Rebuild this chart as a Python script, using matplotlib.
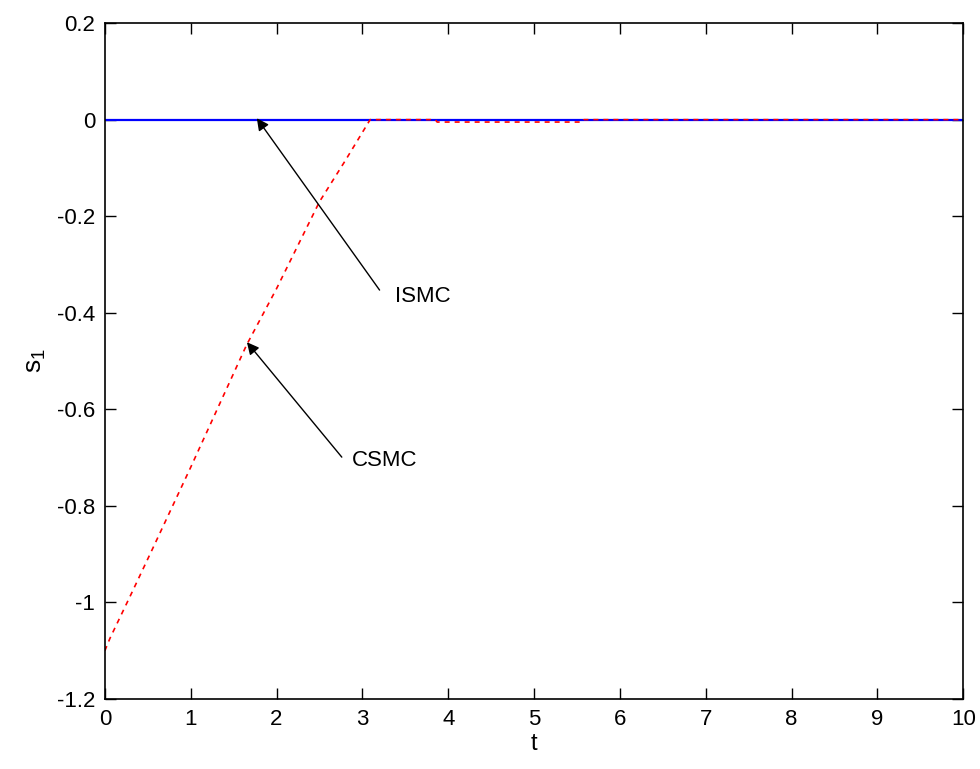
import matplotlib
matplotlib.use("Agg")
import matplotlib.pyplot as plt

plt.rcParams['font.family'] = ['Liberation Sans', 'DejaVu Sans']
plt.rcParams['mathtext.fontset'] = 'custom'
plt.rcParams['mathtext.rm'] = 'Liberation Sans'
plt.rcParams['mathtext.it'] = 'Liberation Sans'

# ISMC: sliding variable stays on zero
t_ismc = [0, 10]
s_ismc = [0, 0]

# CSMC: reaching phase then sliding
t_csmc = [0, 0.06, 0.3, 0.55, 1.0, 1.65, 2.0, 2.5, 2.8, 3.09, 3.85, 3.87, 5.56, 5.58, 10]
s_csmc = [-1.1, -1.074, -0.985, -0.891, -0.72, -0.467, -0.35, -0.17, -0.085, 0.0,
          0.0, -0.005, -0.005, 0.0, 0.0]

x_ticks = list(range(0, 11))
y_ticks = [-1.2, -1, -0.8, -0.6, -0.4, -0.2, 0, 0.2]
y_labels = ['-1.2', '-1', '-0.8', '-0.6', '-0.4', '-0.2', '0', '0.2']

fig = plt.figure(figsize=(9.8, 7.69), dpi=100)
ax = fig.add_axes([0.107, 0.091, 0.876, 0.879])

ax.plot(t_ismc, s_ismc, color='#0000ff', lw=1.6, solid_capstyle='butt')
ax.plot(t_csmc, s_csmc, color='#ff0000', lw=1.2, linestyle=(0, (3, 3)))

# annotations
ax.annotate('', xy=(1.77, 0.003), xytext=(3.2, -0.353),
            arrowprops=dict(arrowstyle='-|>', color='k', lw=1, mutation_scale=18,
                            shrinkA=0, shrinkB=0))
ax.text(3.38, -0.367, 'ISMC', fontsize=16, va='center', ha='left')
ax.annotate('', xy=(1.655, -0.461), xytext=(2.76, -0.699),
            arrowprops=dict(arrowstyle='-|>', color='k', lw=1, mutation_scale=18,
                            shrinkA=0, shrinkB=0))
ax.text(2.88, -0.705, 'CSMC', fontsize=16, va='center', ha='left')

ax.set_xlim(0, 10)
ax.set_ylim(-1.2, 0.2)
ax.set_xticks(x_ticks)
ax.set_yticks(y_ticks)
ax.set_yticklabels(y_labels)
ax.tick_params(direction='in', length=8, width=1, labelsize=16,
               top=True, right=True, pad=7)
for sp in ax.spines.values():
    sp.set_linewidth(1.2)

ax.set_xlabel('t', fontsize=17, labelpad=2)
ax.set_ylabel(r'$\mathregular{s_1}$', fontsize=19, labelpad=6)

fig.savefig('out.png', dpi=100)
